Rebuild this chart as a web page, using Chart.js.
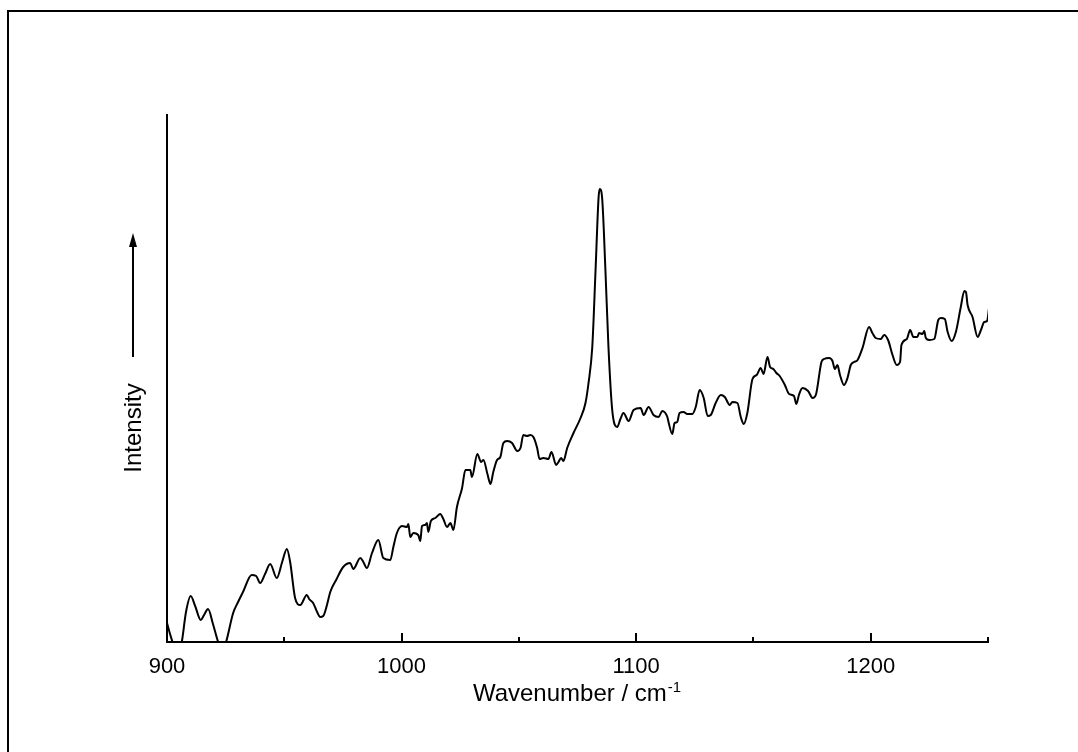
<!DOCTYPE html>
<html>
<head>
<meta charset="utf-8">
<title>Spectrum</title>
<script src="https://cdn.jsdelivr.net/npm/chart.js@4/dist/chart.umd.min.js"></script>
<style>
  html, body { margin: 0; padding: 0; background: #fff; }
  #wrap { position: relative; width: 1078px; height: 752px; overflow: hidden; }
  #frame { position: absolute; left: 7px; top: 10px; right: -10px; bottom: -10px; border-left: 2px solid #000; border-top: 2px solid #000; }
  canvas { position: absolute; left: 0; top: 0; }
</style>
</head>
<body>
<div id="wrap">
  <div id="frame"></div>
  <canvas id="spec" width="1078" height="752"></canvas>
</div>
<script>
// wavenumber (cm-1) and intensity (arb. units)
const wavenumbers = [
  900.0, 901.3, 902.6, 904.3, 906.3, 908.1, 910.1, 912.0, 914.4, 915.8, 917.5, 919.6, 921.8, 923.5, 925.2,
  928.2, 930.3, 932.4, 936.1, 938.0, 939.7, 941.8, 944.0, 946.8, 949.1, 951.1, 952.5, 954.6, 956.8, 959.6,
  960.6, 962.3, 964.0, 965.3, 966.6, 968.3, 969.6, 972.1, 975.1, 978.1, 979.4, 982.4, 983.7, 985.2, 987.4,
  990.1, 992.2, 995.2, 996.5, 998.0, 1000.2, 1002.3, 1002.9, 1003.7, 1005.0, 1007.1, 1008.0, 1008.7, 1010.1, 1010.8,
  1011.4, 1012.5, 1014.4, 1016.5, 1017.8, 1019.4, 1020.8, 1022.1, 1023.6, 1025.8, 1027.2, 1029.3, 1030.0, 1032.3, 1033.9,
  1034.9, 1036.6, 1037.9, 1039.1, 1040.7, 1042.1, 1043.4, 1045.0, 1047.1, 1049.3, 1050.7, 1051.9, 1053.5, 1054.9, 1056.2,
  1057.8, 1058.8, 1060.5, 1062.6, 1063.9, 1065.9, 1066.9, 1068.0, 1069.0, 1070.6, 1073.3, 1076.3, 1078.4, 1079.7, 1081.3,
  1082.7, 1084.0, 1084.5, 1085.5, 1086.9, 1088.2, 1089.8, 1091.9, 1093.3, 1094.6, 1096.8, 1098.9, 1101.9, 1103.2, 1105.3,
  1107.4, 1109.6, 1111.1, 1113.3, 1113.8, 1115.4, 1116.4, 1117.5, 1118.5, 1120.2, 1121.8, 1123.9, 1125.4, 1127.1, 1128.8,
  1130.5, 1131.8, 1133.9, 1136.1, 1137.8, 1139.9, 1141.0, 1143.2, 1144.6, 1145.9, 1147.4, 1149.6, 1151.4, 1153.1, 1154.3,
  1156.0, 1157.1, 1158.5, 1159.8, 1161.2, 1163.4, 1165.2, 1167.3, 1168.3, 1169.4, 1170.9, 1173.3, 1175.2, 1176.6, 1179.0,
  1180.1, 1182.3, 1183.7, 1184.7, 1185.8, 1186.9, 1188.6, 1190.1, 1191.5, 1192.9, 1194.4, 1196.5, 1199.3, 1200.7, 1202.1,
  1204.3, 1205.7, 1207.4, 1209.3, 1211.1, 1212.5, 1213.1, 1215.4, 1216.8, 1218.2, 1219.9, 1220.6, 1222.1, 1222.8, 1223.5,
  1224.9, 1227.1, 1228.8, 1229.9, 1231.6, 1232.8, 1234.5, 1236.3, 1238.4, 1239.9, 1240.6, 1241.3, 1243.4, 1245.6, 1247.0,
  1248.4, 1249.6, 1250.5
];
const intensity = [
  19, 8, -2, -15, 0, 30, 46, 36, 22, 27, 33, 18, 0, -10, 0,
  29, 40, 50, 67, 66, 59, 68, 78, 64, 80, 93, 80, 44, 37, 47,
  43, 39, 30, 25, 26, 38, 50, 62, 75, 79, 73, 84, 80, 74, 89,
  102, 84, 82, 95, 109, 116, 115, 118, 105, 109, 107, 101, 116, 117, 119,
  110, 121, 124, 128, 123, 115, 119, 112, 135, 154, 172, 172, 165, 188, 180,
  182, 168, 158, 170, 182, 185, 199, 201, 199, 191, 194, 207, 206, 207, 205,
  194, 183, 184, 183, 190, 177, 180, 184, 181, 194, 209, 224, 239, 259, 295,
  372, 445, 453, 444, 372, 295, 232, 215, 223, 229, 221, 232, 234, 227, 235,
  227, 225, 231, 225, 220, 208, 219, 220, 229, 230, 228, 228, 235, 252, 244,
  226, 227, 239, 247, 245, 237, 240, 239, 225, 218, 229, 263, 267, 274, 268,
  285, 275, 273, 269, 266, 257, 248, 246, 238, 247, 254, 251, 244, 247, 280,
  283, 284, 281, 273, 277, 267, 257, 264, 277, 280, 282, 294, 315, 309, 304,
  303, 307, 302, 287, 277, 280, 297, 303, 312, 305, 305, 309, 308, 311, 304,
  302, 303, 322, 324, 323, 310, 301, 310, 335, 351, 350, 337, 325, 305, 312,
  320, 321, 335
];
const xTicks = [900, 950, 1000, 1050, 1100, 1150, 1200, 1250];
const xLabeled = [900, 1000, 1100, 1200];

const FONT = '"Liberation Sans", Arial, sans-serif';

// inward tick marks on the wavenumber axis, long on labelled values
const innerTicks = {
  id: 'innerTicks',
  afterDraw(chart) {
    const { ctx, chartArea } = chart;
    const xs = chart.scales.x;
    ctx.save();
    ctx.strokeStyle = '#000';
    ctx.lineWidth = 2;
    xTicks.forEach(v => {
      const px = Math.round(xs.getPixelForValue(v));
      const len = xLabeled.includes(v) ? 9 : 5;
      ctx.beginPath();
      ctx.moveTo(px, chartArea.bottom);
      ctx.lineTo(px, chartArea.bottom - len);
      ctx.stroke();
    });
    ctx.restore();
  }
};

// axis titles: superscript unit on x, rotated label + arrow on y
const axisTitles = {
  id: 'axisTitles',
  afterDraw(chart) {
    const { ctx, chartArea } = chart;
    ctx.save();
    ctx.fillStyle = '#000';
    ctx.textBaseline = 'alphabetic';

    const main = 'Wavenumber / cm';
    const sup = '-1';
    ctx.font = '24px ' + FONT;
    const wMain = ctx.measureText(main).width;
    ctx.font = '15px ' + FONT;
    const wSup = ctx.measureText(sup).width;
    const cx = 577;
    const x0 = cx - (wMain + wSup + 1) / 2;
    const base = 701;
    ctx.font = '24px ' + FONT;
    ctx.textAlign = 'left';
    ctx.fillText(main, x0, base);
    ctx.font = '15px ' + FONT;
    ctx.fillText(sup, x0 + wMain + 1, base - 9);

    ctx.translate(134, 428);
    ctx.rotate(-Math.PI / 2);
    ctx.font = '24px ' + FONT;
    ctx.textAlign = 'center';
    ctx.textBaseline = 'middle';
    ctx.fillText('Intensity', 0, 0);
    ctx.restore();

    // upward arrow above the label
    ctx.save();
    ctx.strokeStyle = '#000';
    ctx.fillStyle = '#000';
    ctx.lineWidth = 2;
    ctx.beginPath();
    ctx.moveTo(133, 357);
    ctx.lineTo(133, 244);
    ctx.stroke();
    ctx.beginPath();
    ctx.moveTo(133, 233);
    ctx.lineTo(129, 247);
    ctx.lineTo(137, 247);
    ctx.closePath();
    ctx.fill();
    ctx.restore();
  }
};

new Chart(document.getElementById('spec'), {
  type: 'line',
  data: {
    datasets: [{
      data: wavenumbers.map((w, i) => ({ x: w, y: intensity[i] })),
      borderColor: '#000',
      borderWidth: 2,
      pointRadius: 0,
      cubicInterpolationMode: 'monotone',
      fill: false
    }]
  },
  options: {
    responsive: false,
    animation: false,
    devicePixelRatio: 1,
    layout: { padding: { left: 167, top: 115, right: 90, bottom: 0 } },
    plugins: { legend: { display: false }, tooltip: { enabled: false } },
    scales: {
      x: {
        type: 'linear',
        min: 900,
        max: 1250,
        afterBuildTicks: s => { s.ticks = xTicks.map(v => ({ value: v })); },
        afterFit: s => { s.height = 110; },
        grid: { display: false, drawTicks: false },
        border: { display: true, color: '#000', width: 2 },
        ticks: {
          autoSkip: false,
          maxRotation: 0,
          padding: 12,
          color: '#000',
          font: { family: FONT, size: 22 },
          callback: v => xLabeled.includes(v) ? String(v) : ''
        }
      },
      y: {
        min: 0,
        max: 527,
        afterFit: s => { s.width = 0; },
        grid: { display: false, drawTicks: false },
        border: { display: true, color: '#000', width: 2 },
        ticks: { display: false }
      }
    }
  },
  plugins: [innerTicks, axisTitles]
});
</script>
</body>
</html>
